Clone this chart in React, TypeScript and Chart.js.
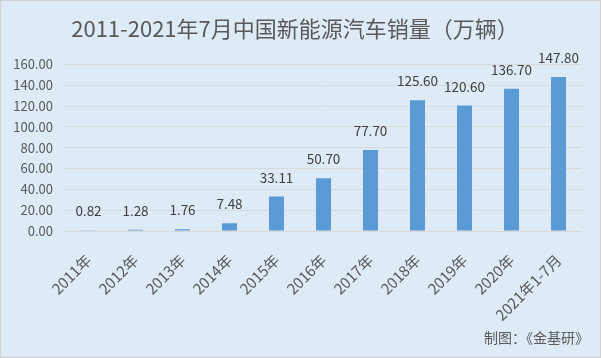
import React, { useEffect, useRef } from "react";
import { Chart, registerables } from "chart.js";

Chart.register(...registerables);

const categories = ["2011年", "2012年", "2013年", "2014年", "2015年", "2016年", "2017年", "2018年", "2019年", "2020年", "2021年1-7月"];
const sales = [0.82, 1.28, 1.76, 7.48, 33.11, 50.7, 77.7, 125.6, 120.6, 136.7, 147.8];
const titleText = "2011-2021年7月中国新能源汽车销量（万辆）";
const footerText = "制图：《金基研》";

const FONT = "'Noto Sans CJK SC', 'Noto Sans', sans-serif";

const labelPlugin = {
  id: "barLabels",
  afterDatasetsDraw(chart: any) {
    const ctx = chart.ctx;
    const meta = chart.getDatasetMeta(0);
    ctx.save();
    ctx.font = "13.5px " + FONT;
    ctx.fillStyle = "#404040";
    ctx.textAlign = "center";
    ctx.textBaseline = "middle";
    meta.data.forEach((bar: any, i: number) => {
      ctx.fillText(sales[i].toFixed(2), bar.x, bar.y - 19);
    });
    ctx.restore();
  },
};

const footerPlugin = {
  id: "footerText",
  afterDraw(chart: any) {
    const ctx = chart.ctx;
    ctx.save();
    ctx.font = "14px " + FONT;
    ctx.fillStyle = "#595959";
    ctx.textAlign = "right";
    ctx.textBaseline = "middle";
    ctx.fillText(footerText, chart.width - 12, chart.height - 20);
    ctx.restore();
  },
};

export default function App() {
  const ref = useRef<HTMLCanvasElement>(null);
  useEffect(() => {
    const chart = new Chart(ref.current!, {
      type: "bar",
      data: {
        labels: categories,
        datasets: [
          {
            data: sales,
            backgroundColor: "#5b9bd5",
            barPercentage: 0.64,
            categoryPercentage: 0.5,
          },
        ],
      },
      options: {
        animation: false,
        responsive: false,
        layout: { padding: { left: 8, right: 19, top: 0, bottom: 22 } },
        plugins: {
          legend: { display: false },
          tooltip: { enabled: false },
          title: {
            display: true,
            text: titleText,
            color: "#595959",
            font: { size: 22, family: FONT, weight: "normal" },
            padding: { top: 15, bottom: 23 },
          },
        },
        scales: {
          x: {
            grid: { display: false },
            border: { display: false },
            ticks: {
              color: "#595959",
              font: { size: 15, family: FONT },
              minRotation: 45,
              maxRotation: 45,
              autoSkip: false,
              padding: 12,
            },
          },
          y: {
            min: 0,
            max: 160,
            border: { display: false },
            grid: { color: "#d9d9d9", drawTicks: false },
            afterFit: (s: any) => {
              s.width = 57;
            },
            ticks: {
              stepSize: 20,
              autoSkip: false,
              color: "#595959",
              font: { size: 13, family: FONT },
              padding: 12,
              callback: (v: any) => Number(v).toFixed(2),
            },
          },
        },
      },
      plugins: [
        labelPlugin,
        footerPlugin,
        {
          id: "bg",
          beforeDraw(c: any) {
            const ctx = c.ctx;
            ctx.save();
            ctx.fillStyle = "#deeaf6";
            ctx.fillRect(0, 0, c.width, c.height);
            ctx.strokeStyle = "#d0d0d0";
            ctx.lineWidth = 1;
            ctx.strokeRect(0.5, 0.5, c.width - 1, c.height - 1);
            ctx.restore();
          },
        },
      ],
    });
    return () => chart.destroy();
  }, []);
  return (
    <div style={{ position: "absolute", left: 0, top: 0, width: 601, height: 358 }}>
      <canvas ref={ref} width={601} height={358} style={{ display: "block" }} />
    </div>
  );
}
